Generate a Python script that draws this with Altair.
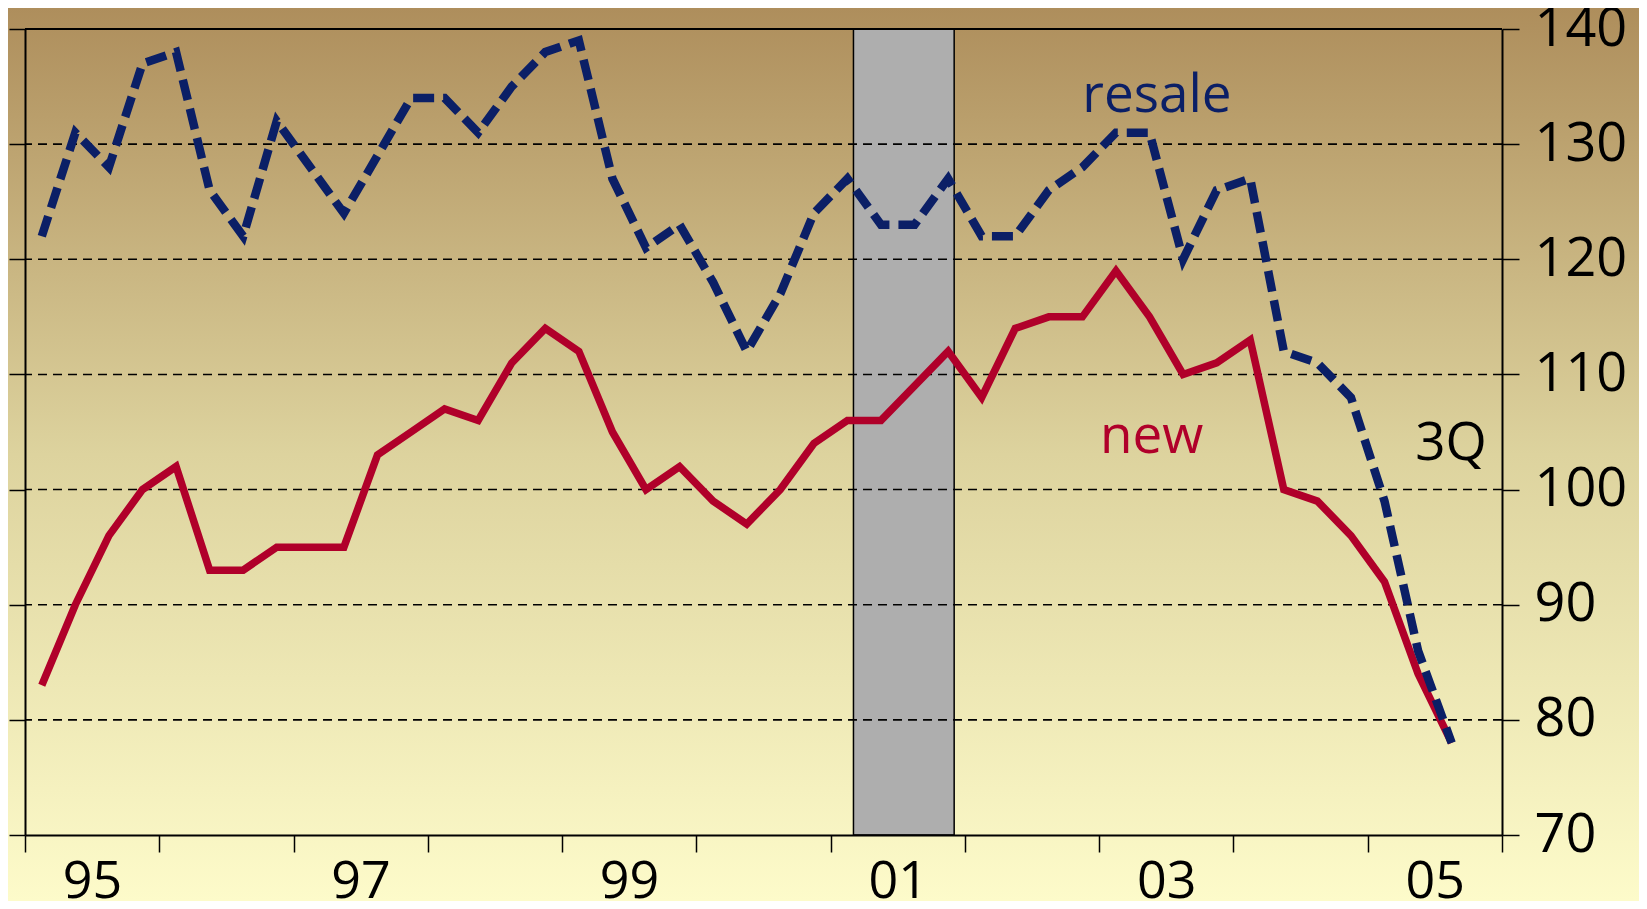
import altair as alt
import pandas as pd

# ---- data ----
first_year = 1995
n_quarters = 43  # 1995Q1 .. 2005Q3
new_sales = [83, 90, 96, 100, 102, 93, 93, 95, 95, 95, 103, 105, 107, 106, 111, 114,
             112, 105, 100, 102, 99, 97, 100, 104, 106, 106, 109, 112, 108, 114, 115,
             115, 119, 115, 110, 111, 113, 100, 99, 96, 92, 84, 78]
resale = [122, 131, 128, 137, 138, 126, 122, 132, 128, 124, 129, 134, 134, 131, 135, 138,
          139, 127, 121, 123, 118, 112, 117, 124, 127, 123, 123, 127, 122, 122, 126,
          128, 131, 131, 120, 126, 127, 112, 111, 108, 99, 86, 78]

recession_start = [2001.17]
recession_end = [2001.92]

y_ticks = [70, 80, 90, 100, 110, 120, 130, 140]
grid_values = [80, 90, 100, 110, 120, 130]
x_tick_years = list(range(1995, 2007))
x_label_years = [1995, 1997, 1999, 2001, 2003, 2005]
x_labels = ["95", "97", "99", "01", "03", "05"]

ann_text = ["resale", "new", "3Q"]
ann_x = [2003.43, 2003.39, 2005.62]
ann_y = [132.8, 103.2, 102.6]
ann_color = ["#0B1F66", "#B0002A", "#000000"]

# ---- tables ----
t = [first_year + (i // 4) + ((i % 4) + 0.5) / 4 for i in range(n_quarters)]
df = pd.DataFrame({"t": t, "new": new_sales, "resale": resale})
rec_df = pd.DataFrame({"start": recession_start, "end": recession_end})
grid_df = pd.DataFrame({"v": grid_values})
ann_df = pd.DataFrame({"label": ann_text, "x": ann_x, "y": ann_y})
one = pd.DataFrame({"k": [0]})

W, H = 1477, 806
PAD = {"left": 17, "top": 21, "right": 137, "bottom": 66}
FONT = "Open Sans"

xscale = alt.Scale(domain=[1995, 2006], nice=False, zero=False)
yscale = alt.Scale(domain=[70, 140], nice=False, zero=False)

years_js = "[" + ",".join(str(y) for y in x_label_years) + "]"
labels_js = "[" + ",".join("'" + s + "'" for s in x_labels) + "]"
label_expr = (f"indexof({years_js}, datum.value) >= 0 ? "
              f"{labels_js}[indexof({years_js}, datum.value)] : ''")

xaxis = alt.Axis(values=x_tick_years, tickSize=17, tickWidth=1.5, tickColor="black",
                 domainColor="black", domainWidth=2, labelExpr=label_expr,
                 labelOffset=67, labelFlush=False, labelOverlap=False,
                 labelFontSize=52, labelFont=FONT, labelColor="black",
                 labelPadding=4, grid=False, title=None, zindex=1)
yaxis_right = alt.Axis(orient="right", values=y_ticks, tickSize=17, tickWidth=1.5,
                       tickColor="black", domainColor="black", domainWidth=2,
                       labelFontSize=54, labelFont=FONT, labelColor="black",
                       labelPadding=15, labelFlush=False, labelOverlap=False,
                       grid=False, title=None, zindex=1)
yaxis_left = alt.Axis(orient="left", values=y_ticks, tickSize=16, tickWidth=1.5,
                      tickColor="black", domainColor="black", domainWidth=2,
                      labels=False, grid=False, title=None, zindex=1)

gradient = alt.Gradient(
    gradient="linear",
    stops=[alt.GradientStop(offset=0.0, color="#AE8E5C"),
           alt.GradientStop(offset=0.12, color="#B99E6B"),
           alt.GradientStop(offset=0.5, color="#DDD39E"),
           alt.GradientStop(offset=1.0, color="#FDFBCA")],
    x1=0, x2=0, y1=0, y2=1)

bg = alt.Chart(one).mark_rect(fill=gradient).encode(
    x=alt.value(-PAD["left"]), x2=alt.value(W + PAD["right"]),
    y=alt.value(-PAD["top"]), y2=alt.value(H + PAD["bottom"]))

rec = alt.Chart(rec_df).mark_rect(fill="#AEAEAE", stroke="black", strokeWidth=1.5).encode(
    x=alt.X("start:Q", scale=xscale, axis=xaxis), x2="end:Q",
    y=alt.value(0), y2=alt.value(H))

grid = alt.Chart(grid_df).mark_rule(color="black", strokeWidth=1.6, strokeDash=[9, 6]).encode(
    y=alt.Y("v:Q", scale=yscale, axis=yaxis_left))

top = alt.Chart(one).mark_rule(color="black", strokeWidth=2).encode(
    y=alt.value(0), x=alt.value(0), x2=alt.value(W))

new_line = alt.Chart(df).mark_line(color="#B0002A", strokeWidth=7.5, strokeJoin="miter").encode(
    x=alt.X("t:Q", scale=xscale, axis=xaxis),
    y=alt.Y("new:Q", scale=yscale, axis=yaxis_right))

resale_line = alt.Chart(df).mark_line(color="#0B1F66", strokeWidth=8.5, strokeDash=[21, 9],
                                      strokeJoin="miter").encode(
    x=alt.X("t:Q", scale=xscale, axis=xaxis),
    y=alt.Y("resale:Q", scale=yscale, axis=None))

ann = alt.Chart(ann_df).mark_text(font=FONT, fontSize=53, align="center",
                                  baseline="alphabetic").encode(
    x=alt.X("x:Q", scale=xscale, axis=xaxis),
    y=alt.Y("y:Q", scale=yscale, axis=None),
    text="label:N",
    color=alt.Color("label:N", scale=alt.Scale(domain=ann_text, range=ann_color), legend=None))

chart = alt.layer(bg, rec, grid, top, new_line, resale_line, ann).resolve_axis(
    y="independent"
).properties(
    width=W, height=H, autosize=alt.AutoSizeParams(type="none"), padding=PAD,
    background="#FDFBCA"
).configure_view(stroke=None)

chart.save("out.html", embed_options={"renderer": "svg", "actions": False})
